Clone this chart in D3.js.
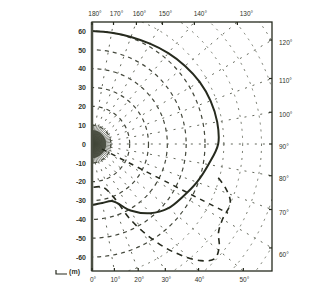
<!DOCTYPE html>
<html>
<head>
<meta charset="utf-8">
<script src="https://cdn.jsdelivr.net/npm/d3@7"></script>
<style>
  body { margin: 0; background: #ffffff; }
  svg text { font-family: 'Liberation Sans', Arial, sans-serif; fill: #30342a; }
</style>
</head>
<body>
<div id="graph"></div>
<script>
// The data...
// range axis tick labels (m)
var rangeTicks = [ -60, -50, -40, -30, -20, -10, 0, 10, 20, 30, 40, 50, 60 ];

// bearing labels round the frame, degrees from straight down
var topAngles    = [ 180, 170, 160, 150, 140, 130 ];
var rightAngles  = [ 120, 110, 100, 90, 80, 70, 60 ];
var bottomAngles = [ 0, 10, 20, 30, 40, 50 ];

// grid
var gridRadii  = [ 10, 20, 30, 40, 50, 60, 70, 80, 90, 100, 110, 120, 130, 140 ];
var gridAngles = [ 0, 10, 20, 30, 40, 50, 60, 70, 80, 90, 100, 110, 120, 130, 140, 150, 160, 170, 180 ];

// solid contour: range (m) at each bearing
var solidAngles = [ 0, 10, 20, 30, 40, 50, 60, 70, 80, 90, 100, 110, 120, 130, 140, 150, 160, 170, 180 ];
var solidRange  = [ 32.4, 31.8, 32.3, 40.8, 48, 53, 55.8, 59.3, 62.8, 67, 67.5, 67, 66, 64.5, 63, 61.5, 60.5, 60, 60 ];

// dashed contour
var dashAngles = [ 2, 14, 22, 27, 32, 37, 43, 47, 51, 55, 60, 67, 72, 76 ];
var dashRange  = [ 23, 23.6, 30.3, 45, 58.8, 71.7, 84.7, 89.2, 86.9, 82, 80, 79.8, 74.3, 67.7 ];

// dashed ray
var rayAngle = 63;
var rayRange = [ 6, 81 ];

function D3App ()
{
    var W = 324, H = 285;
    var box = { left: 92, right: 272, top: 22, bottom: 271 };

    var ink  = '#262a1e';
    var grid = '#62665a';

    var yScale = d3.scaleLinear ()
                   .domain ( [ -60, 60 ] )
                   .range ( [ 257, 31 ] );

    var pxPerM = (yScale (0) - yScale (60)) / 60;

    var xScale = d3.scaleLinear ()
                   .domain ( [ 0, (box.right - box.left) / pxPerM ] )
                   .range ( [ box.left, box.right ] );

    var rScale = d3.scaleLinear ()
                   .domain ( [ 0, 60 ] )
                   .range ( [ 0, yScale (0) - yScale (60) ] );

    var cx = xScale (0), cy = yScale (0);

    // bearing from straight down, counter clockwise -> d3 radial angle
    var toRad = function (a) { return Math.PI - a * Math.PI / 180; };

    var svg = d3.select ('#graph').append ('svg')
                .attr ('width', W)
                .attr ('height', H);

    svg.append ('clipPath')
       .attr ('id', 'clip')
       .append ('rect')
       .attr ('x', box.left)
       .attr ('y', box.top)
       .attr ('width', box.right - box.left)
       .attr ('height', box.bottom - box.top);

    var plot = svg.append ('g').attr ('clip-path', 'url(#clip)');
    var polar = plot.append ('g').attr ('transform', 'translate(' + cx + ',' + cy + ')');

    // grid circles
    polar.selectAll ('circle.grid')
         .data (gridRadii)
         .enter ()
         .append ('circle')
         .attr ('class', 'grid')
         .attr ('r', function (d) { return rScale (d); })
         .attr ('fill', 'none')
         .attr ('stroke', function (d) { return d <= 60 ? '#44483c' : '#74786c'; })
         .attr ('stroke-width', function (d) { return d <= 60 ? 1.2 : 1; })
         .attr ('stroke-dasharray', function (d) { return d <= 60 ? '4,4' : '2,5'; });

    // radial grid lines
    var radial = d3.lineRadial ()
                   .angle (function (d) { return toRad (d[0]); })
                   .radius (function (d) { return rScale (d[1]); });

    polar.selectAll ('path.spoke')
         .data (gridAngles)
         .enter ()
         .append ('path')
         .attr ('class', 'spoke')
         .attr ('d', function (d) { return radial ( [ [ d, 10 ], [ d, 200 ] ] ); })
         .attr ('fill', 'none')
         .attr ('stroke', grid)
         .attr ('stroke-width', 1)
         .attr ('stroke-dasharray', '2,6');

    // source region near the origin
    var fan = d3.range (0, 181, 5);
    polar.selectAll ('path.fan')
         .data (fan)
         .enter ()
         .append ('path')
         .attr ('class', 'fan')
         .attr ('d', function (d) { return radial ( [ [ d, 0 ], [ d, 10.5 ] ] ); })
         .attr ('stroke', '#55594c')
         .attr ('stroke-width', 0.7);

    polar.append ('path')
         .attr ('d', d3.arc () ({ innerRadius: 0, outerRadius: rScale (7.5),
                                  startAngle: 0, endAngle: Math.PI }))
         .attr ('fill', '#3d4234')
         .attr ('opacity', 0.85);

    // dashed ray
    polar.append ('path')
         .attr ('d', radial ( [ [ rayAngle, rayRange[0] ], [ rayAngle, rayRange[1] ] ] ))
         .attr ('stroke', ink)
         .attr ('stroke-width', 1.5)
         .attr ('stroke-dasharray', '5,5');

    // dashed contour
    var dashLine = d3.lineRadial ()
                     .angle (function (d, i) { return toRad (dashAngles[i]); })
                     .radius (function (d) { return rScale (d); })
                     .curve (d3.curveCatmullRom);

    polar.append ('path')
         .attr ('d', dashLine (dashRange))
         .attr ('fill', 'none')
         .attr ('stroke', ink)
         .attr ('stroke-width', 1.6)
         .attr ('stroke-dasharray', '6,5');

    // solid contour
    var solidLine = d3.lineRadial ()
                      .angle (function (d, i) { return toRad (solidAngles[i]); })
                      .radius (function (d) { return rScale (d); })
                      .curve (d3.curveCatmullRom);

    polar.append ('path')
         .attr ('d', solidLine (solidRange))
         .attr ('fill', 'none')
         .attr ('stroke', ink)
         .attr ('stroke-width', 2);

    // frame
    svg.append ('rect')
       .attr ('x', box.left)
       .attr ('y', box.top)
       .attr ('width', box.right - box.left)
       .attr ('height', box.bottom - box.top)
       .attr ('fill', 'none')
       .attr ('stroke', ink)
       .attr ('stroke-width', 1.3);

    // range axis
    var yAxis = d3.axisLeft ()
                  .scale (yScale)
                  .tickValues (rangeTicks)
                  .tickSize (0)
                  .tickPadding (6)
                  .tickFormat (function (d) { return d; });

    var ax = svg.append ('g')
                .attr ('transform', 'translate(' + box.left + ',0)')
                .call (yAxis);

    ax.select ('.domain')
      .attr ('d', 'M0,' + box.top + 'V' + box.bottom)
      .attr ('stroke', '#4a4e42')
      .attr ('stroke-width', 2.5);

    ax.selectAll ('text')
      .attr ('font-size', '7px')
      .attr ('font-weight', 'bold')
      .attr ('font-family', "'Liberation Sans', Arial, sans-serif")
      .attr ('fill', '#30342a');

    svg.append ('text')
       .attr ('x', 80)
       .attr ('y', 274)
       .attr ('text-anchor', 'end')
       .attr ('font-size', '7px')
       .attr ('font-weight', 'bold')
       .text ('(m)');

    svg.append ('path')
       .attr ('d', 'M56,270V274H67')
       .attr ('fill', 'none')
       .attr ('stroke', ink)
       .attr ('stroke-width', 1.2);

    // where a bearing leaves the frame
    var edgePoint = function (a)
    {
        var dx = Math.sin (a * Math.PI / 180), dy = Math.cos (a * Math.PI / 180);
        var t = Infinity;
        if (dx > 1e-6)  t = Math.min (t, (box.right - cx) / dx);
        if (dy > 1e-6)  t = Math.min (t, (box.bottom - cy) / dy);
        if (dy < -1e-6) t = Math.min (t, (box.top - cy) / dy);
        return [ cx + t * dx, cy + t * dy ];
    };

    var tick = 3;

    topAngles.forEach (function (a)
    {
        var p = edgePoint (a);
        svg.append ('line').attr ('x1', p[0]).attr ('x2', p[0])
           .attr ('y1', box.top).attr ('y2', box.top + tick)
           .attr ('stroke', ink).attr ('stroke-width', 1.2);
        svg.append ('text')
           .attr ('x', p[0] + 3 + Math.max (0, 150 - a) * 0.3).attr ('y', box.top - 6)
           .attr ('text-anchor', 'middle')
           .attr ('font-size', '6.5px')
           .text (a + '°');
    });

    rightAngles.forEach (function (a)
    {
        var p = edgePoint (a);
        svg.append ('line').attr ('x1', box.right - tick).attr ('x2', box.right)
           .attr ('y1', p[1]).attr ('y2', p[1])
           .attr ('stroke', ink).attr ('stroke-width', 1.2);
        svg.append ('text')
           .attr ('x', box.right + 7).attr ('y', p[1] + 5 + Math.max (0, 70 - a) * 0.4)
           .attr ('font-size', '6.5px')
           .text (a + '°');
    });

    bottomAngles.forEach (function (a)
    {
        var p = edgePoint (a);
        svg.append ('line').attr ('x1', p[0]).attr ('x2', p[0])
           .attr ('y1', box.bottom - tick).attr ('y2', box.bottom)
           .attr ('stroke', ink).attr ('stroke-width', 1.2);
        svg.append ('text')
           .attr ('x', p[0] + 1).attr ('y', box.bottom + 11)
           .attr ('text-anchor', 'middle')
           .attr ('font-size', '6.5px')
           .text (a + '°');
    });
}

D3App ();
</script>
</body>
</html>
